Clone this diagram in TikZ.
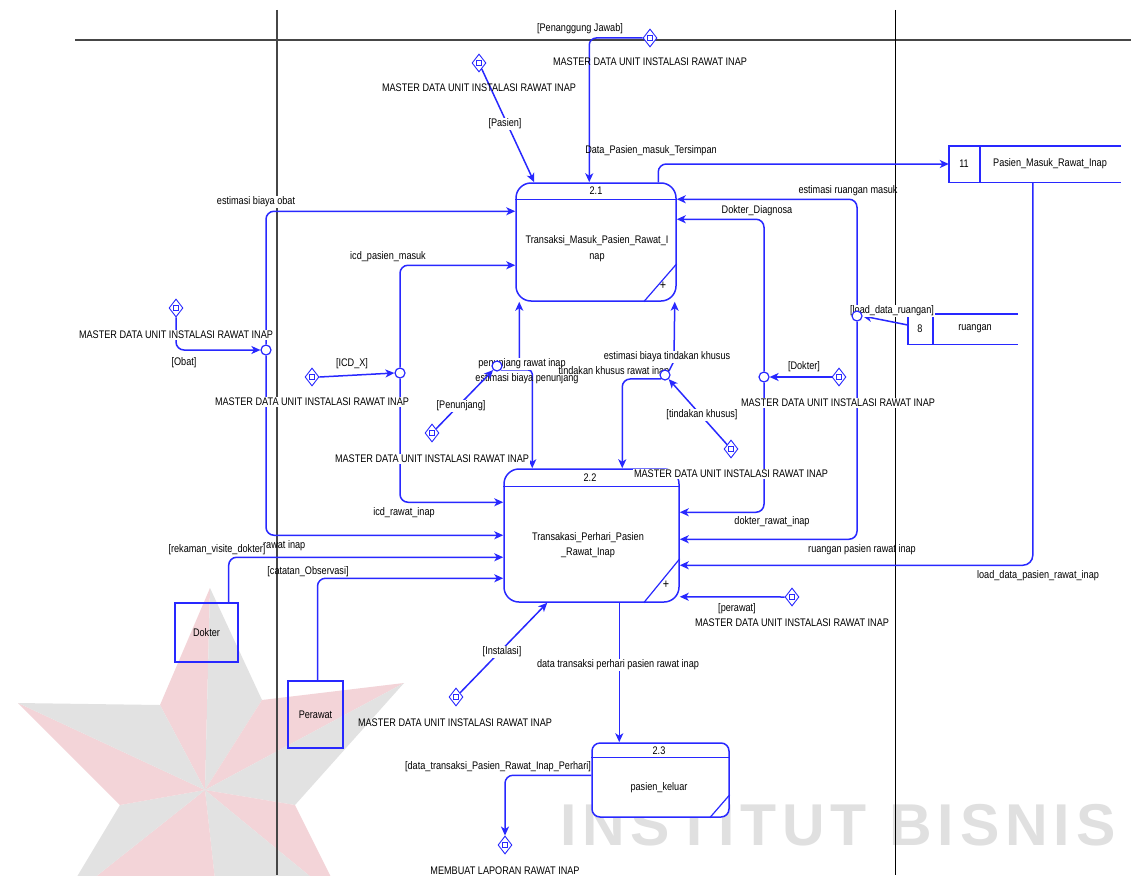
\documentclass[tikz,border=0pt]{standalone}
\usepackage{fontspec}
\setmainfont{Liberation Sans}[FakeStretch=0.83]
\newfontfamily\wmfont{Liberation Sans}[LetterSpace=10]
\usetikzlibrary{shapes.geometric,arrows.meta,calc}
\pgfdeclarelayer{bg}\pgfdeclarelayer{labels}\pgfdeclarelayer{top}
\pgfsetlayers{bg,main,labels,top}

\definecolor{dfdblue}{RGB}{40,40,255}
\definecolor{wmred}{RGB}{243,212,216}
\definecolor{wmgray}{RGB}{226,226,226}
\definecolor{wmtext}{RGB}{224,224,224}
\definecolor{frameline}{RGB}{70,70,70}

\newcommand\mdtext{MASTER DATA UNIT INSTALASI RAWAT INAP}

\begin{document}
\begin{tikzpicture}[x=1pt,y=-1pt,
  lbl/.style={font=\fontsize{11pt}{13pt}\selectfont, inner sep=1pt, text=black},
  lblw/.style={lbl, fill=white},
  proc/.style={draw=dfdblue, line width=1.5pt, rounded corners=15pt, fill=white},
  flow/.style={draw=dfdblue, line width=1.5pt, -{Stealth[length=9pt,width=8pt,inset=2.5pt]}},
  junc/.style={circle, draw=dfdblue, fill=white, line width=1.2pt, minimum size=10pt, inner sep=0pt},
  mdata/.style={diamond, draw=dfdblue, fill=white, line width=0.9pt, minimum width=14pt,
    minimum height=18pt, inner sep=0pt,
    path picture={\draw[dfdblue, line width=0.8pt]
      ([xshift=-2.5pt,yshift=-2.5pt]path picture bounding box.center) rectangle
      ([xshift=2.5pt,yshift=2.5pt]path picture bounding box.center);}},
  entity/.style={draw=dfdblue, line width=1.4pt, inner sep=0pt,
    font=\fontsize{11pt}{13pt}\selectfont, text=black},
  storeline/.style={draw=dfdblue, line width=1.4pt},
]
\useasboundingbox (0,0) rectangle (1131,875);

% ---------- background: watermark and swimlane frame ----------
\begin{pgfonlayer}{bg}
  \fill[white] (0,0) rectangle (1131,875);
  \begin{scope}
    \clip (0,0) rectangle (1131,875);
    \fill[wmred]  (210,588) -- (160,705) -- (205,790) -- cycle;
    \fill[wmgray] (210,588) -- (205,790) -- (262,700) -- cycle;
    \fill[wmred]  (404,683) -- (262,700) -- (205,790) -- cycle;
    \fill[wmgray] (404,683) -- (205,790) -- (295,805) -- cycle;
    \fill[wmred]  (345,905) -- (295,805) -- (205,790) -- cycle;
    \fill[wmgray] (345,905) -- (205,790) -- (215,880) -- cycle;
    \fill[wmred]  (60,905) -- (215,880) -- (205,790) -- cycle;
    \fill[wmgray] (60,905) -- (205,790) -- (120,805) -- cycle;
    \fill[wmred]  (18,703) -- (120,805) -- (205,790) -- cycle;
    \fill[wmgray] (18,703) -- (205,790) -- (160,705) -- cycle;
  \end{scope}
  \node[anchor=base west, text=wmtext, inner sep=0pt,
        font=\wmfont\fontsize{59pt}{60pt}\bfseries\selectfont] (wm) at (560,845) {INSTITUT BISNIS};
  \draw[frameline, line width=1.2pt] (75,40) -- (1131,40);
  \draw[frameline, line width=1.2pt] (277,10) -- (277,875);
  \draw[black, line width=1pt] (895,10) -- (895,875);
\end{pgfonlayer}

% ---------- processes ----------
\node[proc, minimum width=160pt, minimum height=118pt] (p21) at (596,242) {};
\draw[dfdblue, line width=1.5pt] ($(p21.north west)+(0,17)$) -- ($(p21.north east)+(0,17)$);
\draw[dfdblue, line width=1.2pt] ($(p21.south east)+(-33,0)$) -- ($(p21.south east)+(0,-38)$);
\node[lbl] (p21num) at (596,191) {2.1};
\node[lbl, align=center, font=\fontsize{11pt}{16pt}\selectfont] (p21name) at (597,249)
  {Transaksi\_Masuk\_Pasien\_Rawat\_I\\nap};
\node[lbl, font=\fontsize{13pt}{14pt}\selectfont] (p21plus) at (663,286) {+};

\node[proc, minimum width=175pt, minimum height=133pt] (p22) at (591.5,535.5) {};
\draw[dfdblue, line width=1.5pt] ($(p22.north west)+(0,18)$) -- ($(p22.north east)+(0,18)$);
\draw[dfdblue, line width=1.2pt] ($(p22.south east)+(-36,0)$) -- ($(p22.south east)+(0,-44)$);
\node[lbl] (p22num) at (590,478) {2.2};
\node[lbl, align=center, font=\fontsize{11pt}{14.5pt}\selectfont] (p22name) at (588,545)
  {Transakasi\_Perhari\_Pasien\\\_Rawat\_Inap};
\node[lbl, font=\fontsize{13pt}{14pt}\selectfont] (p22plus) at (666,585) {+};

\node[proc, rounded corners=8pt, minimum width=137pt, minimum height=74pt] (p23) at (660.5,780) {};
\draw[dfdblue, line width=1.5pt] ($(p23.north west)+(0,15)$) -- ($(p23.north east)+(0,15)$);
\draw[dfdblue, line width=1.2pt] ($(p23.south east)+(-20,0)$) -- ($(p23.south east)+(0,-23)$);
\node[lbl] (p23num) at (659,751) {2.3};
\node[lbl] (p23name) at (659,788) {pasien\_keluar};

% ---------- data stores ----------
\node[minimum width=172pt, minimum height=36pt, inner sep=0pt] (s11) at (1035,164) {};
\draw[storeline] (s11.north east) -- (s11.north west) -- (s11.south west) -- (s11.south east);
\draw[storeline] ($(s11.north west)+(31,0)$) -- ($(s11.south west)+(31,0)$);
\node[lbl] (s11id) at (964,164) {11};
\node[lbl] (s11name) at (1050,164) {Pasien\_Masuk\_Rawat\_Inap};

\node[minimum width=110pt, minimum height=30pt, inner sep=0pt] (s8) at (963,329) {};
\draw[storeline] (s8.north east) -- (s8.north west) -- (s8.south west) -- (s8.south east);
\draw[storeline] ($(s8.north west)+(25,0)$) -- ($(s8.south west)+(25,0)$);
\node[lbl] (s8id) at (920,329) {8};
\node[lbl] (s8name) at (975,329) {ruangan};

% ---------- external entities ----------
\node[entity, minimum width=63pt, minimum height=59pt] (dok) at (206.5,632.5) {Dokter};
\node[entity, minimum width=55pt, minimum height=67pt] (per) at (315.5,714.5) {Perawat};

% ---------- master data interfaces and junctions ----------
\begin{pgfonlayer}{top}
  \node[mdata] (md1) at (650,38) {};
  \node[mdata] (md2) at (479,63) {};
  \node[mdata] (md3) at (176,308) {};
  \node[mdata] (md4) at (312,377) {};
  \node[mdata] (md5) at (432,433) {};
  \node[mdata] (md6) at (731,449) {};
  \node[mdata] (md7) at (839,377) {};
  \node[mdata] (md8) at (792,597) {};
  \node[mdata] (md9) at (456,697) {};
  \node[mdata] (md10) at (505,845) {};
  \node[junc] (j1) at (266,350) {};
  \node[junc] (j2) at (400,373) {};
  \node[junc] (j3) at (497,366) {};
  \node[junc] (j4) at (665,375) {};
  \node[junc] (j5) at (764,377) {};
  \node[junc] (j6) at (857,316) {};
  \draw[flow] (md5) -- (j3);
  \node[lblw] (tPnj) at (461,406) {[Penunjang]};
\end{pgfonlayer}

% ---------- data flows ----------
\draw[flow, rounded corners=7pt] (md1.west) -| ($(p21.north west)+(74,0)$);
\draw[flow] (md2) -- ($(p21.north west)+(19,0)$);
\draw[flow, rounded corners=8pt] ($(p21.north west)+(143,0)$) |- (s11.west);

\draw[flow, rounded corners=8pt] (md3.south) |- (j1.west);
\draw[flow, rounded corners=8pt] (j1.north) |- ($(p21.north west)+(0,29)$);
\draw[flow, rounded corners=8pt] (j1.south) |- ($(p22.north west)+(0,67)$);

\draw[flow] (md4.east) -- (j2.west);
\draw[flow, rounded corners=8pt] (j2.north) |- ($(p21.north west)+(0,83)$);
\draw[flow, rounded corners=8pt] (j2.south) |- ($(p22.north west)+(0,34)$);

\draw[flow, rounded corners=4pt] (j3.east) -| ($(p21.south west)+(4,0)$);
\draw[flow, rounded corners=4pt] (j3.south east) -| ($(p22.north west)+(29,0)$);

\draw[flow] (md6) -- (j4);
\draw[flow] (j4.north east) -- ++(5,-10) -- ($(p21.south east)+(-2,0)$);
\draw[flow, rounded corners=8pt] (j4.south west) -| ($(p22.north west)+(119,0)$);

\draw[flow] (md7.west) -- (j5.east);
\draw[flow, rounded corners=8pt] (j5.north) |- ($(p21.north east)+(0,37)$);
\draw[flow, rounded corners=8pt] (j5.south) |- ($(p22.north east)+(0,44)$);

\draw[flow] ($(s8.west)+(0,-4)$) -- (j6.east);
\draw[flow, rounded corners=8pt] (j6.north) |- ($(p21.north east)+(0,17)$);
\draw[flow, rounded corners=8pt] (j6.south) |- ($(p22.north east)+(0,71)$);

\draw[flow, rounded corners=10pt] ($(s11.south west)+(84,0)$) |- ($(p22.north east)+(0,97)$);
\draw[flow] (md8.west) -- ($(p22.south east)+(0,-6)$);
\draw[flow] (md9) -- ($(p22.south west)+(44,0)$);
\draw[flow] ($(p22.south west)+(116,0)$) -- ($(p23.north west)+(28,0)$);
\draw[flow, rounded corners=8pt] ($(p23.north west)+(0,33)$) -| (md10.north);

\draw[flow, rounded corners=8pt] ($(dok.north east)+(-10,0)$) |- ($(p22.north west)+(0,89)$);
\draw[flow, rounded corners=8pt] ($(per.north)+(2,0)$) |- ($(p22.north west)+(0,110)$);

% ---------- flow labels ----------
\begin{pgfonlayer}{labels}
  \node[lbl]  (tPJ)  at (580,29)  {[Penanggung Jawab]};
  \node[lbl]  (tM1)  at (650,62)  {\mdtext};
  \node[lbl]  (tM2)  at (479,88)  {\mdtext};
  \node[lblw] (tPas) at (505,124) {[Pasien]};
  \node[lbl]  (tDPT) at (651,151) {Data\_Pasien\_masuk\_Tersimpan};
  \node[lbl]  (tERM) at (848,191) {estimasi ruangan masuk};
  \node[lbl]  (tDD)  at (757,211) {Dokter\_Diagnosa};
  \node[lblw] (tEBO) at (256,202) {estimasi biaya obat};
  \node[lbl]  (tIPM) at (388,257) {icd\_pasien\_masuk};
  \node[lblw] (tLDR) at (892,311) {[load\_data\_ruangan]};
  \node[lblw] (tM3)  at (176,335) {\mdtext};
  \node[lbl]  (tObat) at (184,363) {[Obat]};
  \node[lbl]  (tICD) at (352,364) {[ICD\_X]};
  \node[lblw] (tM4)  at (312,402) {\mdtext};
  \node[lblw] (tPRI) at (522,364) {penunjang rawat inap};
  \node[lbl]  (tEBP) at (527,379) {estimasi biaya penunjang};
  \node[lblw] (tEBT) at (667,357) {estimasi biaya tindakan khusus};
  \node[lbl]  (tTKR) at (614,372) {tindakan khusus rawat inap};
  \node[lblw] (tTK)  at (702,415) {[tindakan khusus]};
  \node[lbl]  (tDok) at (804,367) {[Dokter]};
  \node[lblw] (tM7)  at (838,403) {\mdtext};
  \node[lblw] (tM5)  at (432,459) {\mdtext};
  \node[lblw] (tM6)  at (731,474) {\mdtext};
  \node[lbl]  (tIRI) at (404,513) {icd\_rawat\_inap};
  \node[lbl]  (tDRI) at (772,522) {dokter\_rawat\_inap};
  \node[lbl, anchor=west] (tORI) at (262,546) {rawat inap};
  \node[lblw] (tRVD) at (217,550) {[rekaman\_visite\_dokter]};
  \node[lbl]  (tRPR) at (862,550) {ruangan pasien rawat inap};
  \node[lbl]  (tCO)  at (308,572) {[catatan\_Observasi]};
  \node[lbl]  (tLDP) at (1038,576) {load\_data\_pasien\_rawat\_inap};
  \node[lbl]  (tPer) at (737,609) {[perawat]};
  \node[lbl]  (tM8)  at (792,623) {\mdtext};
  \node[lblw] (tIns) at (502,652) {[Instalasi]};
  \node[lblw] (tDTP) at (618,665) {data transaksi perhari pasien rawat inap};
  \node[lbl]  (tM9)  at (455,723) {\mdtext};
  \node[lbl]  (tDTR) at (498,767) {[data\_transaksi\_Pasien\_Rawat\_Inap\_Perhari]};
  \node[lbl]  (tML)  at (505,871) {MEMBUAT LAPORAN RAWAT INAP};
\end{pgfonlayer}
\end{tikzpicture}
\end{document}
